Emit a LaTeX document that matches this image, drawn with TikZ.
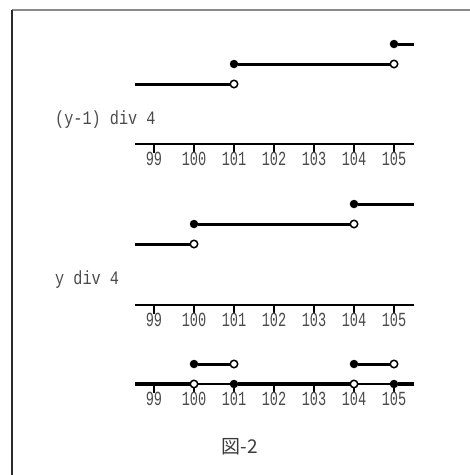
\documentclass[tikz,border=0pt]{standalone}
\usepackage{fontspec}
\newfontfamily\monotick[FakeStretch=0.68]{Liberation Mono}
\newfontfamily\monoside[FakeStretch=0.8]{Liberation Mono}
\newfontfamily\cjk{Noto Sans CJK JP}
\definecolor{labelgray}{HTML}{4A4A4A}
\definecolor{framegray}{HTML}{8A8A8A}
\definecolor{framedark}{HTML}{2A2A2A}
\tikzset{
  dotfill/.style={circle, fill=black, inner sep=0pt, minimum size=8.5pt},
  hollow/.style={circle, draw=black, fill=white, line width=1.5pt, inner sep=0pt, minimum size=7.5pt},
  seg/.style={line width=3pt, line cap=butt},
  axisline/.style={line width=1.3pt},
  axisthick/.style={line width=3.2pt},
  tickline/.style={line width=1.3pt},
  ticklbl/.style={font=\monotick\fontsize{20}{21}\selectfont, text=labelgray, inner sep=0pt},
  sidelbl/.style={font=\monoside\fontsize{19}{20}\selectfont, text=labelgray, inner sep=0pt, anchor=west},
}
\begin{document}
\begin{tikzpicture}[x=1pt, y=-1pt]
\useasboundingbox (0,0) rectangle (470,475);
% frame (only top and left edges visible)
\coordinate (FT) at (470,10);
\coordinate (FC) at (12,10);
\coordinate (FB) at (12,475);
\draw[framegray, line width=2pt] (FC) -- (FT);
\draw[framedark, line width=1.7pt] (FC) -- (FB);

% ---------- section 1: (y-1) div 4 ----------
\coordinate (A0) at (135,84);
\node[hollow] (A1) at (234,84) {};
\node[dotfill] (A2) at (234,64) {};
\node[hollow] (A3) at (394,64) {};
\node[dotfill] (A4) at (394,44) {};
\coordinate (A5) at (414,44);
\draw[seg] (A0) -- (A1);
\draw[seg] (A2) -- (A3);
\draw[seg] (A4) -- (A5);
\node[sidelbl] (Alabel) at (55,120) {(y-1) div 4};
\coordinate (AL) at (135,144);
\coordinate (AR) at (414,144);
\draw[axisline] (AL) -- (AR);
\foreach \v [count=\i from 0] in {99,100,101,102,103,104,105} {
  \coordinate (Ak\v) at (154+40*\i,144);
  \draw[tickline] (Ak\v) -- ++(0,9);
  \node[ticklbl] (At\v) at (154+40*\i,159) {\v};
}

% ---------- section 2: y div 4 ----------
\coordinate (B0) at (135,244);
\node[hollow] (B1) at (194,244) {};
\node[dotfill] (B2) at (194,224) {};
\node[hollow] (B3) at (354,224) {};
\node[dotfill] (B4) at (354,204) {};
\coordinate (B5) at (414,204);
\draw[seg] (B0) -- (B1);
\draw[seg] (B2) -- (B3);
\draw[seg] (B4) -- (B5);
\node[sidelbl] (Blabel) at (55,280) {y div 4};
\coordinate (BL) at (135,305);
\coordinate (BR) at (414,305);
\draw[axisline] (BL) -- (BR);
\foreach \v [count=\i from 0] in {99,100,101,102,103,104,105} {
  \coordinate (Bk\v) at (154+40*\i,305);
  \draw[tickline] (Bk\v) -- ++(0,9);
  \node[ticklbl] (Bt\v) at (154+40*\i,320) {\v};
}

% ---------- section 3: difference ----------
\node[dotfill] (C1) at (194,364) {};
\node[hollow] (C2) at (234,364) {};
\node[dotfill] (C3) at (354,364) {};
\node[hollow] (C4) at (394,364) {};
\draw[seg] (C1) -- (C2);
\draw[seg] (C3) -- (C4);
\coordinate (CL) at (135,384);
\coordinate (CR) at (414,384);
\draw[axisline] (CL) -- (CR);
\foreach \v [count=\i from 0] in {99,100,101,102,103,104,105} {
  \coordinate (Ck\v) at (154+40*\i,384);
  \draw[tickline] (Ck\v) -- ++(0,9);
}
\node[hollow] (D1) at (194,384) {};
\node[dotfill] (D2) at (234,384) {};
\node[hollow] (D3) at (354,384) {};
\node[dotfill] (D4) at (394,384) {};
\draw[axisthick] (CL) -- (D1);
\draw[axisthick] (D2) -- (D3);
\draw[axisthick] (D4) -- (CR);
\foreach \v [count=\i from 0] in {99,100,101,102,103,104,105} {
  \node[ticklbl] (Ct\v) at (154+40*\i,399) {\v};
}

% caption
\node[font=\cjk\fontsize{19}{20}\selectfont, text=labelgray!80!black, inner sep=0pt] (cap) at (240,447) {図-2};
\end{tikzpicture}
\end{document}
